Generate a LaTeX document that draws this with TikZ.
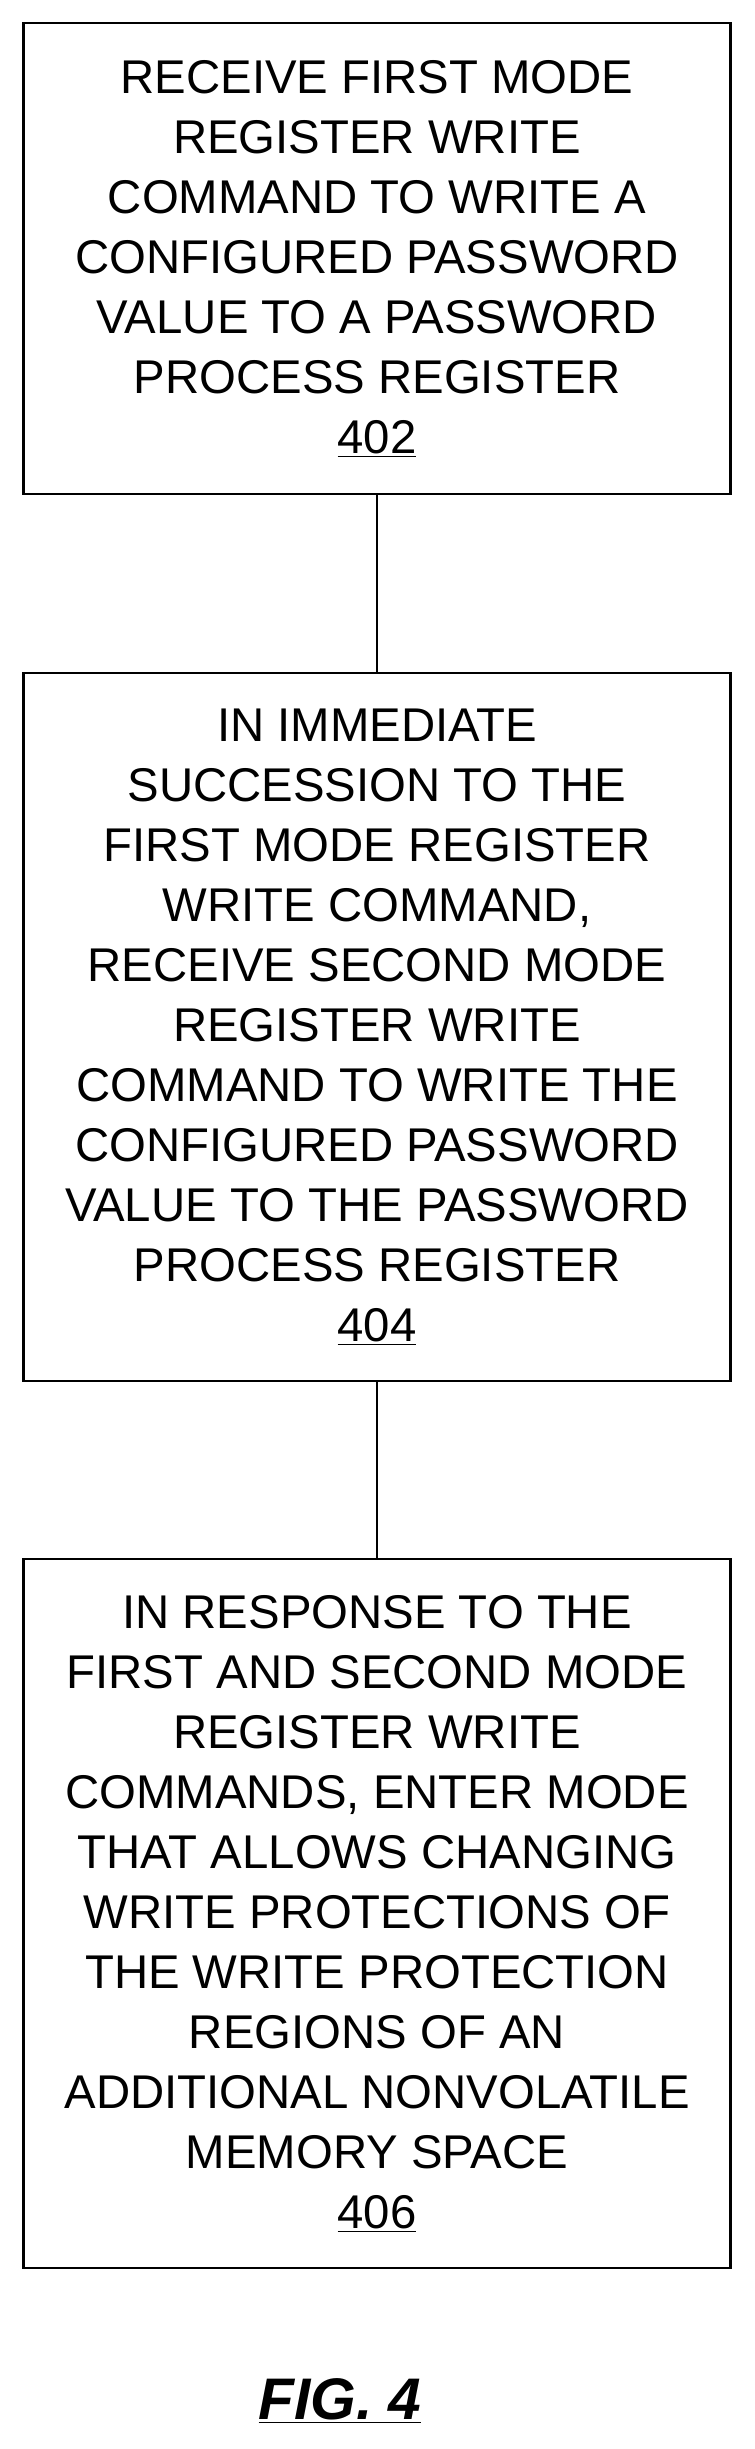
\documentclass[tikz,border=0pt]{standalone}
\usepackage{fontspec}
\setmainfont{Liberation Sans}
\usetikzlibrary{positioning}

\begin{document}
\begin{tikzpicture}[x=0.75pt,y=-0.75pt]
  % Styles
  \tikzset{
    stepbox/.style={draw, line width=2.2pt, align=center, minimum width=707*0.75pt, inner sep=0pt,
      font=\fontsize{35.5}{45}\selectfont},
    link/.style={line width=2.2pt},
  }
  \useasboundingbox (0,0) rectangle (754,2449);

  % Steps
  \node[stepbox, minimum height=471*0.75pt] (recv1) at (377,258.5) {RECEIVE FIRST MODE\\REGISTER WRITE\\COMMAND TO WRITE A\\CONFIGURED PASSWORD\\VALUE TO A PASSWORD\\PROCESS REGISTER\\\underline{402}};
  \node[stepbox, minimum height=708*0.75pt] (recv2) at (377,1027) {IN IMMEDIATE\\SUCCESSION TO THE\\FIRST MODE REGISTER\\WRITE COMMAND,\\RECEIVE SECOND MODE\\REGISTER WRITE\\COMMAND TO WRITE THE\\CONFIGURED PASSWORD\\VALUE TO THE PASSWORD\\PROCESS REGISTER\\\underline{404}};
  \node[stepbox, minimum height=709*0.75pt] (enter) at (377,1913.5) {IN RESPONSE TO THE\\FIRST AND SECOND MODE\\REGISTER WRITE\\COMMANDS, ENTER MODE\\THAT ALLOWS CHANGING\\WRITE PROTECTIONS OF\\THE WRITE PROTECTION\\REGIONS OF AN\\ADDITIONAL NONVOLATILE\\MEMORY SPACE\\\underline{406}};

  % Links
  \draw[link] (recv1) -- (recv2);
  \draw[link] (recv2) -- (enter);

  % Caption
  \node[font=\fontsize{44}{52}\selectfont\bfseries\itshape] (fig) at (340,2401) {\underline{FIG. 4}};
\end{tikzpicture}
\end{document}
